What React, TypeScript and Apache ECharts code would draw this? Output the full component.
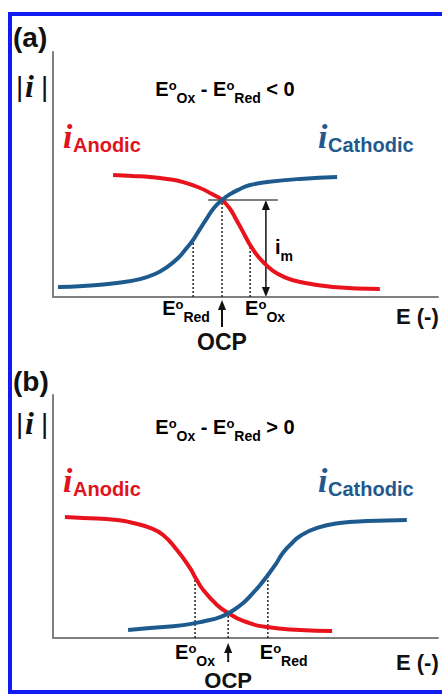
import React, { useEffect, useRef } from "react";
import * as echarts from "echarts";

// ---- data (E in arbitrary units 0..100, |i| in arbitrary units 0..100)
const anodicA: [number, number][] = [
  [15.6, 49.8], [20.8, 49.4], [25.2, 49.0], [29.6, 48.2], [33.8, 46.9], [38.2, 44.5],
  [41.3, 42.0], [43.9, 39.6], [46.0, 35.9], [47.5, 31.8], [49.1, 27.3], [50.6, 22.9],
  [52.2, 18.8], [54.3, 14.7], [56.9, 11.0], [60.0, 8.2], [64.2, 6.1], [72.7, 4.1], [84.9, 3.3],
];
const cathodicA: [number, number][] = [
  [1.3, 4.1], [7.8, 4.5], [16.6, 5.7], [22.6, 7.3], [26.5, 9.4], [29.6, 12.2], [32.5, 15.9],
  [34.5, 19.6], [36.4, 23.3], [38.2, 27.8], [40.0, 32.2], [41.8, 36.3], [43.9, 39.6],
  [46.0, 42.0], [48.6, 44.1], [51.2, 45.7], [55.6, 46.9], [64.2, 48.2], [73.8, 49.0],
];
const anodicB: [number, number][] = [
  [3.1, 49.8], [7.8, 49.4], [16.6, 48.6], [20.8, 47.3], [25.2, 45.3], [28.6, 42.4],
  [32.2, 36.2], [35.6, 28.8], [36.9, 25.1], [39.0, 19.8], [42.6, 13.6], [45.5, 10.3],
  [49.4, 7.0], [55.6, 4.5], [64.2, 3.3], [72.5, 2.9],
];
const cathodicB: [number, number][] = [
  [19.5, 3.3], [25.2, 4.1], [33.8, 5.3], [39.5, 7.0], [43.4, 8.6], [46.5, 11.1],
  [49.4, 14.4], [51.7, 18.1], [53.8, 21.8], [55.8, 25.9], [57.9, 30.5], [59.7, 35.0],
  [62.1, 39.1], [64.2, 42.0], [68.6, 45.3], [74.5, 47.3], [81.6, 48.1], [91.9, 48.6],
];
// marker positions [E, |i| at curve]
const eRedA: [number, number] = [36.4, 23.3];
const ocpA: [number, number] = [43.9, 39.6];
const eOxA: [number, number] = [51.2, 21.2];
const imLineA: [number, number] = [40.3, 58.4]; // horizontal line extent at crossing
const imArrowXA = 55.3;
const eOxB: [number, number] = [36.9, 25.1];
const ocpB: [number, number] = [45.5, 10.3];
const eRedB: [number, number] = [55.8, 25.9];

const RED = "#e8131c";
const BLUE = "#1d5a8e";
const SANS = "'Liberation Sans', Arial, Helvetica, sans-serif";
const SERIF = "'Liberation Serif', 'Times New Roman', serif";
const INK = "#111111";

const eRich: any = {
  E: { fontSize: 20, fontWeight: "bold", fontFamily: SANS, lineHeight: 26, verticalAlign: "top", color: INK },
  o: { fontSize: 13, fontWeight: "bold", fontFamily: SANS, lineHeight: 12, verticalAlign: "top", color: INK },
  s: { fontSize: 14, fontWeight: "bold", fontFamily: SANS, lineHeight: 14, verticalAlign: "bottom", color: INK },
  t: { fontSize: 20, fontWeight: "bold", fontFamily: SANS, lineHeight: 26, verticalAlign: "top", color: INK },
};

function richText(text: string, x: number, yCenter: number, align: string) {
  return {
    type: "text",
    x,
    y: yCenter - 13,
    silent: true,
    style: { text, rich: eRich, align, verticalAlign: "top", textAlign: align, textVerticalAlign: "top" },
  };
}

function plain(text: string, x: number, y: number, size: number, opts: any = {}) {
  return {
    type: "text",
    x,
    y,
    silent: true,
    style: {
      text,
      fill: opts.fill || INK,
      fontSize: size,
      fontWeight: opts.weight || "bold",
      fontStyle: opts.style || "normal",
      fontFamily: opts.family || SANS,
      align: opts.align || "left",
      verticalAlign: "middle",
      textAlign: opts.align || "left",
      textVerticalAlign: "middle",
    },
  };
}

function upArrow(x: number, tip: number, tail: number) {
  return [
    { type: "line", silent: true, shape: { x1: x, y1: tail, x2: x, y2: tip + 6 }, style: { stroke: INK, lineWidth: 2 } },
    { type: "polygon", silent: true, shape: { points: [[x, tip], [x - 4, tip + 10], [x + 4, tip + 10]] }, style: { fill: INK } },
  ];
}

function axisPair(g: number) {
  return {
    gridIndex: g,
    type: "value",
    min: 0,
    max: 100,
    axisLine: { show: true, onZero: false, lineStyle: { color: "#7f7f7f", width: 2 } },
    axisTick: { show: false },
    axisLabel: { show: false },
    splitLine: { show: false },
  };
}

function curve(data: [number, number][], color: string, g: number) {
  return {
    type: "line",
    xAxisIndex: g,
    yAxisIndex: g,
    data,
    smooth: 0.5,
    symbol: "none",
    silent: true,
    z: 4,
    lineStyle: { color, width: 4 },
  };
}

function dotted(pt: [number, number], g: number) {
  return {
    type: "line",
    xAxisIndex: g,
    yAxisIndex: g,
    data: [[pt[0], 0], [pt[0], pt[1]]],
    symbol: "none",
    silent: true,
    z: 2,
    lineStyle: { color: "#222", width: 1.5, type: [2, 2] },
  };
}

export default function App() {
  const ref = useRef<HTMLDivElement>(null);
  useEffect(() => {
    if (!ref.current) return;
    const chart = echarts.init(ref.current, null, { renderer: "svg" });
    chart.setOption({
      animation: false,
      backgroundColor: "#ffffff",
      grid: [
        { left: 53, top: 52, width: 385, height: 245 },
        { left: 53, top: 395, width: 385, height: 243 },
      ],
      xAxis: [axisPair(0), axisPair(1)],
      yAxis: [axisPair(0), axisPair(1)],
      series: [
        dotted(eRedA, 0),
        dotted(ocpA, 0),
        dotted(eOxA, 0),
        {
          type: "line",
          xAxisIndex: 0,
          yAxisIndex: 0,
          data: [[imLineA[0], ocpA[1]], [imLineA[1], ocpA[1]]],
          symbol: "none",
          silent: true,
          z: 3,
          lineStyle: { color: "#555", width: 1.5 },
        },
        curve(anodicA, RED, 0),
        curve(cathodicA, BLUE, 0),
        dotted(eOxB, 1),
        dotted(ocpB, 1),
        dotted(eRedB, 1),
        curve(anodicB, RED, 1),
        curve(cathodicB, BLUE, 1),
      ],
    });

    const px = (g: number, pt: [number, number]) => chart.convertToPixel({ gridIndex: g } as any, pt) as number[];

    const pRedA = px(0, eRedA);
    const pOxA = px(0, eOxA);
    const pOcpA = px(0, ocpA);
    const pImTop = px(0, [imArrowXA, ocpA[1]]);
    const pImBot = px(0, [imArrowXA, 0]);
    const pOxB = px(1, eOxB);
    const pOcpB = px(1, ocpB);
    const pRedB = px(1, eRedB);

    const graphics: any[] = [
      {
        type: "rect",
        silent: true,
        shape: { x: 10, y: 14, width: 480, height: 678 },
        style: { fill: "none", stroke: "#0f1bf0", lineWidth: 4 },
        z: 100,
      },
      // panel a
      plain("(a)", 13, 37, 28),
      plain("|", 16, 86, 28, { weight: "normal" }),
      plain("i", 25, 86, 32, { family: SERIF, style: "italic" }),
      plain("|", 41, 86, 28, { weight: "normal" }),
      richText("{E|E}{o|o}{s|Ox}{t| - }{E|E}{o|o}{s|Red}{t| < 0}", 225, 92, "center"),
      plain("i", 63, 136.5, 34, { family: SERIF, style: "italic", fill: "#e0141d" }),
      plain("Anodic", 73, 145, 20, { fill: "#e0141d" }),
      plain("i", 318, 136.5, 34, { family: SERIF, style: "italic", fill: "#22598c" }),
      plain("Cathodic", 328, 145, 20, { fill: "#22598c" }),
      // i_m double arrow
      { type: "line", silent: true, shape: { x1: pImTop[0], y1: pImTop[1] + 6, x2: pImBot[0], y2: pImBot[1] - 6 }, style: { stroke: INK, lineWidth: 1.5 } },
      { type: "polygon", silent: true, shape: { points: [[pImTop[0], pImTop[1]], [pImTop[0] - 4, pImTop[1] + 10], [pImTop[0] + 4, pImTop[1] + 10]] }, style: { fill: INK } },
      { type: "polygon", silent: true, shape: { points: [[pImBot[0], pImBot[1]], [pImBot[0] - 4, pImBot[1] - 10], [pImBot[0] + 4, pImBot[1] - 10]] }, style: { fill: INK } },
      {
        type: "text",
        x: pImTop[0] + 9,
        y: 250 - 13,
        silent: true,
        style: { text: "{E|i}{s|m}", rich: eRich, align: "left", verticalAlign: "top", textAlign: "left", textVerticalAlign: "top" },
      },
      richText("{E|E}{o|o}{s|Red}", pRedA[0] - 31, 310.5, "left"),
      richText("{E|E}{o|o}{s|Ox}", pOxA[0] - 5, 310.5, "left"),
      ...upArrow(pOcpA[0], 300, 327),
      plain("OCP", pOcpA[0], 342, 23, { align: "center" }),
      plain("E (-)", 396, 316, 22),
      // panel b
      plain("(b)", 13, 381, 28),
      plain("|", 16, 423, 28, { weight: "normal" }),
      plain("i", 25, 423, 32, { family: SERIF, style: "italic" }),
      plain("|", 41, 423, 28, { weight: "normal" }),
      richText("{E|E}{o|o}{s|Ox}{t| - }{E|E}{o|o}{s|Red}{t| > 0}", 225, 430, "center"),
      plain("i", 63, 480.5, 34, { family: SERIF, style: "italic", fill: "#e0141d" }),
      plain("Anodic", 73, 489, 20, { fill: "#e0141d" }),
      plain("i", 318, 480.5, 34, { family: SERIF, style: "italic", fill: "#22598c" }),
      plain("Cathodic", 328, 489, 20, { fill: "#22598c" }),
      richText("{E|E}{o|o}{s|Ox}", pOxB[0] - 20, 655, "left"),
      richText("{E|E}{o|o}{s|Red}", pRedB[0] - 8, 655, "left"),
      ...upArrow(pOcpB[0], 643, 662),
      plain("OCP", pOcpB[0], 680, 22, { align: "center" }),
      plain("E (-)", 396, 662, 22),
    ];
    chart.setOption({ graphic: { elements: graphics } });
    return () => chart.dispose();
  }, []);
  return <div ref={ref} style={{ position: "fixed", left: 0, top: 0, width: 442, height: 694, background: "#fff" }} />;
}
